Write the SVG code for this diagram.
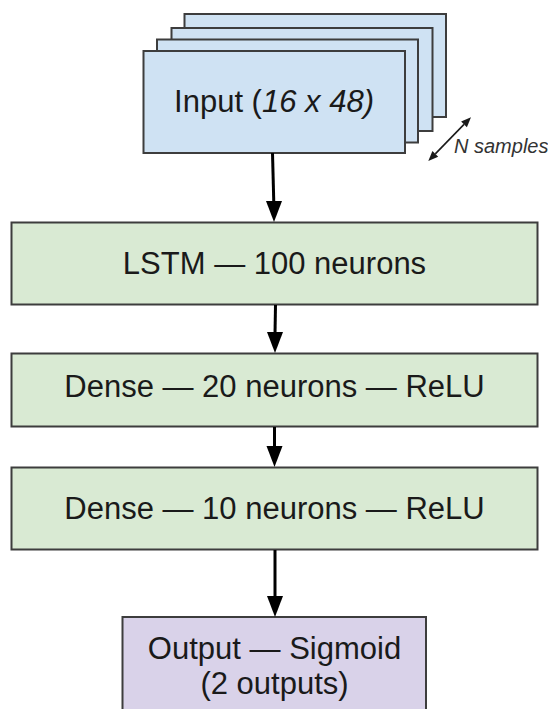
<svg xmlns="http://www.w3.org/2000/svg" width="548" height="709" viewBox="0 0 548 709">
  <style>
    .box { stroke: #3d3d3d; stroke-width: 2; }
    .inp { fill: #cfe2f3; }
    .lay { fill: #d9ead3; }
    .out { fill: #d9d2e9; }
    .lbl { font-family: "Liberation Sans", Arial, sans-serif; font-size: 31px; fill: #1a1a1a; text-anchor: middle; }
    .conn { stroke: #000; stroke-width: 3; fill: none; }
    .head { fill: #000; stroke: none; }
    .dbl { stroke: #1a1a1a; stroke-width: 1.6; fill: none; }
    .shead { fill: #1a1a1a; stroke: none; }
    .note { font-family: "Liberation Sans", Arial, sans-serif; font-size: 20px; font-style: italic; fill: #333; }
  </style>

  <g id="input">
    <rect class="box inp" x="184.5" y="14" width="261.5" height="103"/>
    <rect class="box inp" x="171.5" y="28" width="261" height="103"/>
    <rect class="box inp" x="157" y="39.5" width="261" height="103"/>
    <rect class="box inp" x="143.5" y="51" width="261.5" height="102"/>
    <text class="lbl" x="274" y="111.5">Input (<tspan font-style="italic">16 x 48)</tspan></text>
  </g>

  <g id="n-samples">
    <line class="dbl" x1="435.3" y1="153.9" x2="464" y2="124.4"/>
    <polygon class="shead" points="471,117.3 466.9,127.3 461.1,121.6"/>
    <polygon class="shead" points="428.3,161 438.2,156.7 432.4,151"/>
    <text class="note" x="454" y="153">N samples</text>
  </g>

  <g id="lstm">
    <rect class="box lay" x="11.5" y="222.5" width="526" height="82"/>
    <text class="lbl" x="274.5" y="274">LSTM — 100 neurons</text>
  </g>

  <g id="dense20">
    <rect class="box lay" x="11.5" y="353.5" width="526" height="73"/>
    <text class="lbl" x="274.5" y="396.5">Dense — 20 neurons — ReLU</text>
  </g>

  <g id="dense10">
    <rect class="box lay" x="11.5" y="467.5" width="526" height="82"/>
    <text class="lbl" x="274.5" y="519">Dense — 10 neurons — ReLU</text>
  </g>

  <g id="output">
    <rect class="box out" x="122.5" y="617" width="303.5" height="100"/>
    <text class="lbl" x="274.5" y="659">Output — Sigmoid</text>
    <text class="lbl" x="274.5" y="694">(2 outputs)</text>
  </g>

  <g id="connectors">
    <line class="conn" x1="272.5" y1="153" x2="273.8" y2="203"/>
    <polygon class="head" points="266,201 282,201 274,222"/>
    <line class="conn" x1="275.5" y1="305" x2="275" y2="334"/>
    <polygon class="head" points="267,332 283,332 275,353"/>
    <line class="conn" x1="274.5" y1="427" x2="274.5" y2="448"/>
    <polygon class="head" points="266.5,446 282.5,446 274.5,467"/>
    <line class="conn" x1="275" y1="550" x2="275" y2="598"/>
    <polygon class="head" points="267,596 283,596 275,617"/>
  </g>
</svg>
